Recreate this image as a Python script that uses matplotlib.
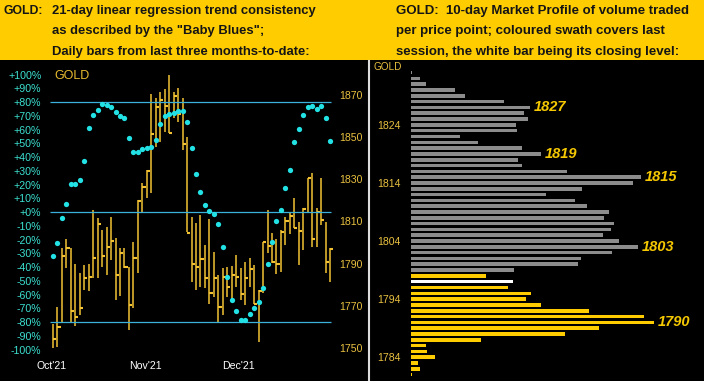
import matplotlib
matplotlib.use("Agg")
import matplotlib.pyplot as plt
from matplotlib.patches import Rectangle
from matplotlib.lines import Line2D

W, H = 704, 381

# ---- left panel data: daily bars (price) and "Baby Blues" (percent)
highs = [1761.3, 1769.3, 1797.3, 1801.7, 1797.3, 1789.7, 1785.5, 1789.4, 1789.7, 1815.4,
         1811.5, 1806.1, 1807.5, 1812.3, 1802.3, 1797.6, 1797.6, 1788.6, 1800.1, 1820.2,
         1828.1, 1834.4, 1870.2, 1868.3, 1871.4, 1872.7, 1879.3, 1871.1, 1873.0, 1868.6,
         1850.1, 1812.0, 1809.1, 1813.0, 1798.9, 1811.2, 1795.7, 1784.7, 1788.1, 1788.6,
         1789.1, 1794.1, 1788.1, 1791.0, 1792.9, 1789.4, 1777.6, 1800.4, 1815.4, 1804.4,
         1801.7, 1806.0, 1812.3, 1813.9, 1821.3, 1809.9, 1816.2, 1830.4, 1832.8, 1816.5,
         1830.4, 1809.9, 1797.6]
lows = [1750.0, 1750.5, 1762.1, 1787.8, 1762.6, 1760.5, 1765.7, 1777.6, 1777.1, 1783.1,
        1783.4, 1788.6, 1784.7, 1791.8, 1772.8, 1774.9, 1787.8, 1758.6, 1769.2, 1785.5,
        1813.9, 1821.0, 1823.3, 1845.4, 1847.5, 1852.5, 1851.7, 1858.8, 1857.2, 1843.8,
        1805.0, 1781.5, 1777.6, 1779.0, 1778.7, 1770.8, 1774.4, 1762.6, 1765.7, 1774.4,
        1772.8, 1779.1, 1772.8, 1770.5, 1778.8, 1771.0, 1753.1, 1776.0, 1794.9, 1790.2,
        1785.0, 1786.0, 1798.9, 1803.9, 1806.8, 1789.4, 1796.5, 1814.6, 1798.1, 1798.1,
        1808.3, 1785.5, 1781.2]
closes = [1754.2, 1759.9, 1793.8, 1797.3, 1767.6, 1764.9, 1768.9, 1783.1, 1783.6, 1792.9,
          1808.8, 1793.8, 1798.1, 1800.9, 1784.7, 1794.9, 1788.6, 1770.5, 1792.9, 1819.8,
          1826.2, 1833.9, 1851.4, 1864.3, 1867.5, 1864.8, 1851.7, 1869.5, 1860.7, 1846.7,
          1804.7, 1789.7, 1788.6, 1792.2, 1783.1, 1776.3, 1783.1, 1769.7, 1783.9, 1779.1,
          1784.7, 1783.9, 1775.5, 1783.1, 1787.4, 1771.0, 1777.2, 1800.4, 1798.4, 1791.0,
          1789.7, 1804.9, 1810.2, 1812.7, 1806.8, 1805.5, 1815.8, 1830.4, 1801.7, 1814.6,
          1810.7, 1791.0, 1796.8]
baby_blues = [-31.8, -22.3, -4.4, 6.0, 20.1, 20.6, 23.5, 37.1, 60.9, 70.4,
              74.0, 78.7, 77.7, 76.7, 72.6, 69.5, 68.2, 54.0, 43.6, 43.6,
              45.8, 46.8, 47.5, 52.6, 64.0, 69.8, 71.3, 72.2, 73.5, 73.7,
              65.5, 46.8, 27.4, 14.8, 5.1, 0.9, -1.2, -8.7, -25.2, -47.0,
              -64.0, -71.8, -78.5, -78.5, -73.9, -69.6, -65.2, -55.0, -37.8, -21.6,
              -6.3, 1.5, 17.5, 30.5, 51.1, 60.4, 70.5, 76.4, 77.3, 75.1,
              77.1, 68.2, 51.6]
month_starts = [0, 21, 42]
month_labels = ["Oct'21", "Nov'21", "Dec'21"]
pct_ticks = list(range(-100, 101, 10))
price_ticks = list(range(1750, 1871, 20))
ref_levels = [80, 0, -80]

# ---- right panel data: 10-day market profile, one bar per dollar
profile_prices = list(range(1833, 1780, -1))
profile_volume = [1, 9, 15, 44, 54, 93, 119, 113, 117, 105,
                  106, 49, 67, 111, 130, 107, 111, 156, 230, 222,
                  171, 135, 164, 176, 198, 193, 203, 200, 192, 208,
                  227, 201, 170, 167, 103, 75, 102, 97, 120, 115,
                  130, 178, 233, 243, 188, 154, 70, 15, 16, 24,
                  7, 9, 1]
session_low, session_high, session_close = 1781, 1798, 1797
peak_labels = [1827, 1819, 1815, 1803, 1790]
profile_ticks = [1784, 1794, 1804, 1814, 1824]

FONT = "Liberation Sans"
BAR = "#F2C232"
BLUE = "#22E2E6"
LINE = "#3AB0DA"
PRICE_TXT = "#E8C040"


def fr(x0, y0, x1, y1):
    # pixel box -> figure fraction
    return [x0 / W, 1 - y1 / H, (x1 - x0) / W, (y1 - y0) / H]


fig = plt.figure(figsize=(W / 100, H / 100), dpi=100, facecolor="black")

# yellow header band
fig.patches.append(Rectangle((0, 1 - 60 / H), 1, 60 / H, transform=fig.transFigure,
                             facecolor="#FFCC00", edgecolor="none", zorder=0))
hdr = dict(fontsize=9.4, weight="bold", family=FONT, color="#151515", va="center", ha="left")
fig.text(4 / W, 1 - 11 / H, "GOLD:", **dict(hdr, fontsize=8.8))
left_lines = ["21-day linear regression trend consistency",
              'as described by the "Baby Blues";',
              "Daily bars from last three months-to-date:"]
right_lines = ["GOLD:  10-day Market Profile of volume traded",
               "per price point; coloured swath covers last",
               "session, the white bar being its closing level:"]
for i, (l, r) in enumerate(zip(left_lines, right_lines)):
    y = 1 - (11 + i * 20.3) / H
    fig.text(52 / W, y, l, **hdr)
    fig.text(396 / W, y, r, **dict(hdr, fontsize=9.5))

# panel divider
fig.add_artist(Line2D([369 / W, 369 / W], [0, 1 - 61 / H], color="#DDDDDD", lw=1.5))

# ---- left panel
ax = fig.add_axes(fr(48.5, 62, 334.6, 360))
ax.set_facecolor("none")
x = list(range(len(closes)))
ax.vlines(x, lows, highs, color=BAR, lw=1.1, zorder=2)
ax.hlines(closes, x, [i + 0.7 for i in x], color=BAR, lw=1.5, zorder=2)
ax.set_xlim(-1, 63)
ax.set_ylim(1744.4, 1885.5)

axp = ax.twinx()
axp.set_ylim(-107.6, 109.1)
axp.hlines(ref_levels, -0.7, 62.2, color=LINE, lw=0.9, zorder=1)
axp.plot(x, baby_blues, "o", ms=3.8, color=BLUE, mec="none", zorder=3)

ax.yaxis.tick_right()
ax.set_yticks(price_ticks)
ax.set_yticklabels([str(p) for p in price_ticks], family=FONT, fontsize=7.6)
ax.tick_params(axis="y", length=0, pad=3.2, labelcolor=PRICE_TXT)
ax.set_xticks([m - 0.4 for m in month_starts])
ax.set_xticklabels(month_labels, family=FONT, fontsize=7.6)
ax.tick_params(axis="x", length=0, pad=0.5, labelcolor="white")

axp.yaxis.tick_left()
axp.set_yticks(pct_ticks)
axp.set_yticklabels([f"{v:+d}%" for v in pct_ticks], family=FONT, fontsize=7.7)
axp.tick_params(axis="y", length=0, pad=5.2, labelcolor="#3CE0D0")
for a in (ax, axp):
    for s in a.spines.values():
        s.set_visible(False)

fig.text(54 / W, 1 - 76 / H, "GOLD", family=FONT, fontsize=9, color="#E8BC30",
         va="center", ha="left")

# ---- right panel: market profile
axr = fig.add_axes(fr(411, 61, 704, 381))
axr.set_facecolor("none")
colors = []
for p in profile_prices:
    if p == session_close:
        colors.append("white")
    elif session_low <= p <= session_high:
        colors.append("#FFCC00")
    else:
        colors.append("#8C8C8C")
axr.barh(profile_prices, profile_volume, height=0.62, color=colors, edgecolor="none")
axr.set_xlim(0, 293)
axr.set_ylim(1779.9, 1835.0)
axr.set_xticks([])
axr.set_yticks(profile_ticks)
axr.set_yticklabels([str(p) for p in profile_ticks], family=FONT, fontsize=7.6)
axr.tick_params(axis="y", length=0, pad=7.2, labelcolor=PRICE_TXT)
for s in axr.spines.values():
    s.set_visible(False)
for p in peak_labels:
    v = profile_volume[profile_prices.index(p)]
    axr.annotate(str(p), (v, p), xytext=(3, 0), textcoords="offset points",
                 va="center", ha="left", family=FONT, fontsize=10.5,
                 weight="bold", style="italic", color="#F5C800")

fig.text(373 / W, 1 - 67.5 / H, "GOLD", family=FONT, fontsize=7.2, color=PRICE_TXT,
         va="center", ha="left")

fig.savefig("out.png", dpi=100, facecolor="black")
